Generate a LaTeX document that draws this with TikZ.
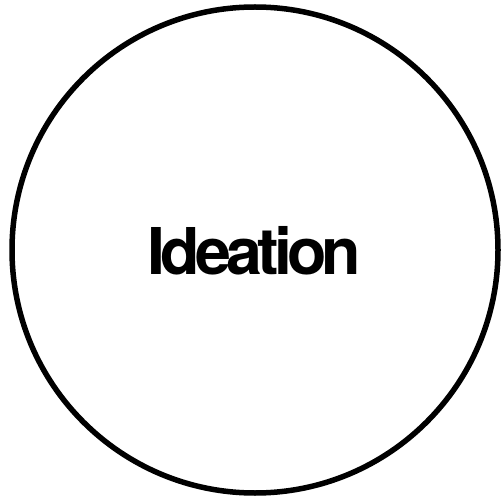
\documentclass[tikz,border=0pt]{standalone}
\usepackage{fontspec}
\setmainfont{TeX Gyre Heros}
\newfontfamily\titlefont[LetterSpace=-7.5]{TeX Gyre Heros}
\begin{document}
\begin{tikzpicture}[x=1pt,y=1pt]
  \useasboundingbox (0,0) rectangle (501,499);
  \draw[line width=5.5pt] (255,249) circle (243);
  \node[anchor=base,inner sep=0pt] (ideation) at (254.5,225)
    {\titlefont\bfseries\fontsize{64.5}{64.5}\selectfont Ideation};
\end{tikzpicture}
\end{document}
